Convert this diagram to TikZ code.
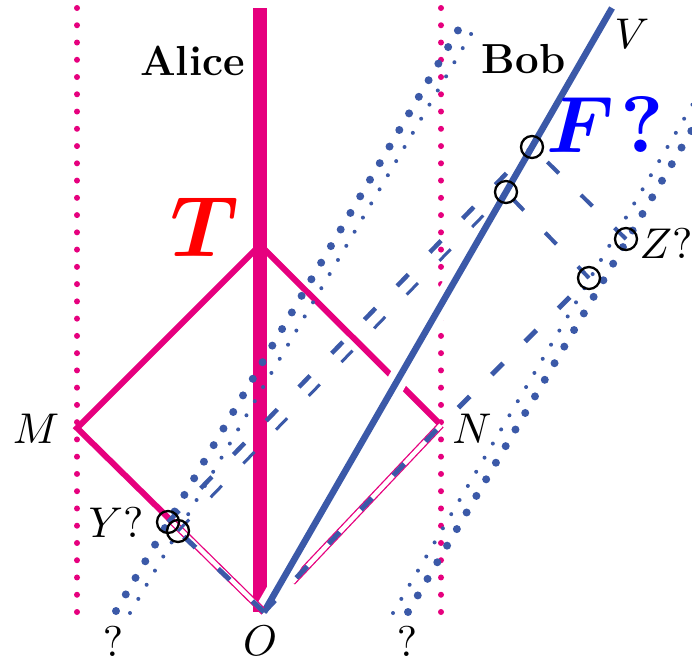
\documentclass[tikz,border=0pt]{standalone}
\usepackage{graphicx}
\usepackage{bm}
\usetikzlibrary{calc}
\definecolor{mag}{RGB}{230,0,126}
\definecolor{bl}{RGB}{59,89,168}
\definecolor{tred}{RGB}{255,0,0}
\definecolor{fblue}{RGB}{0,0,255}
\newcommand{\lab}[1]{\scalebox{4.3}{$#1$}}
\newcommand{\bigT}{\scalebox{8.6}{$\bm{T}$}}
\newcommand{\bigF}{\scalebox{8}{$\bm{F}$\hspace{0.8pt}\textbf{?}}}
\begin{document}
\begin{tikzpicture}[x=1pt,y=-1pt,
  lbl/.style={inner sep=0pt, anchor=base, text=black},
  namelbl/.style={font=\fontsize{42}{50}\selectfont\bfseries, inner sep=0pt, anchor=base, text=black},
  tlbl/.style={inner sep=0pt, anchor=base, text=tred},
  flbl/.style={inner sep=0pt, anchor=base west, text=fblue},
  magdot/.style={mag, line width=6pt, line cap=round, dash pattern=on 0pt off 17.257pt},
  bigdot/.style={bl, line width=8pt, line cap=round, dash pattern=on 0pt off 19.25pt},
  smalldot/.style={bl, line width=4pt, line cap=round, dash pattern=on 0pt off 16.39pt},
  thickmag/.style={mag, line width=6pt},
  dbl/.style={draw=mag, line width=1.3pt, double=white, double distance=4.5pt},
  bdash/.style={bl, line width=4.5pt, dash pattern=on 16pt off 31pt},
  tdash/.style={bl, line width=3pt, dash pattern=on 16pt off 31pt},
  ring/.style={draw=black, line width=2.3pt, circle, minimum size=22pt, inner sep=0pt},
]
\clip (0,0) rectangle (692,665);
\useasboundingbox (0,0) rectangle (692,665);

\coordinate (O) at (264,612);
\coordinate (T) at (260,245);
\coordinate (M) at (77,428);
\coordinate (N) at (441,425);
\coordinate (Atop) at (260,8);
\coordinate (Abot) at (260,612);
\coordinate (Vtop) at (612,8);
\coordinate (Mt) at (77,8);
\coordinate (Mb) at (77,612);
\coordinate (Nt) at (441,8);
\coordinate (Nb) at (441,612);
\coordinate (LB1) at (116,611);
\coordinate (LB2) at (467.6,14);
\coordinate (LS1) at (130,613);
\coordinate (LS2) at (479.3,20);
\coordinate (RB1) at (408,612);
\coordinate (RB2) at (700,116.2);
\coordinate (RS1) at (393,613);
\coordinate (RS2) at (700,91.8);
\coordinate (Yu) at (168,522);
\coordinate (Yl) at (178,531);
\coordinate (Zu) at (626,239);
\coordinate (Zl) at (589,278);
\coordinate (Vu) at (532,147);
\coordinate (Vl) at (506,192);
\coordinate (Pm) at ($(M)!0.5!(O)$);
\coordinate (Pn) at ($(O)!0.16!(N)$);

% Alice frame
\draw[mag, line width=13.3pt] (Atop) -- (Abot);
\draw[thickmag] (Pm) -- (M) -- (T) -- (N);
\draw[magdot] (Mt) -- (Mb);
\draw[magdot] (Nt) -- (Nb);
\draw[dbl] (Pn) -- (N);

% Bob's mirrors
\draw[bigdot] (LB1) -- (LB2);
\draw[smalldot] (LS1) -- (LS2);
\draw[bigdot] (RB1) -- (RB2);
\draw[smalldot] (RS1) -- (RS2);

% Bob worldline
\draw[bl, line width=6.5pt, preaction={draw=white, line width=20pt}] (O) -- (Vtop);

\draw[dbl] (Pm) -- (O);

% light signals in Bob's frame
\draw[bdash, line width=5pt] (O) -- (Yl);
\draw[bdash, line width=5pt] (O) -- (N) -- (Zl);
\draw[bdash] (Yu) -- (Vu);
\draw[tdash] (Yl) -- (Vl);
\draw[bdash, line width=4pt] (Zu) -- (Vu);
\draw[bdash, line width=4pt] (Zl) -- (Vl);

% event rings
\node[ring] (cYu) at (Yu) {};
\node[ring] (cYl) at (Yl) {};
\node[ring] (cZu) at (Zu) {};
\node[ring] (cZl) at (Zl) {};
\node[ring] (cVu) at (Vu) {};
\node[ring] (cVl) at (Vl) {};

% labels
\node[namelbl] (alice) at (192.5,75) {Alice};
\node[namelbl] (bob) at (523.5,73) {Bob};
\node[lbl] (lV) at (632,48) {\lab{V}};
\node[lbl] (lM) at (36,443) {\lab{M}};
\node[lbl] (lN) at (472,443) {\lab{N}};
\node[lbl] (lO) at (260,655) {\lab{O}};
\node[lbl] (lq1) at (113,656) {\lab{?}};
\node[lbl] (lq2) at (407,656) {\lab{?}};
\node[lbl] (lY) at (116,537) {\lab{Y?}};
\node[lbl] (lZ) at (666,258) {\lab{Z?}};
\node[tlbl] (lT) at (205,256) {\bigT};
\node[flbl] (lF) at (546,152) {\bigF};
\end{tikzpicture}
\end{document}
